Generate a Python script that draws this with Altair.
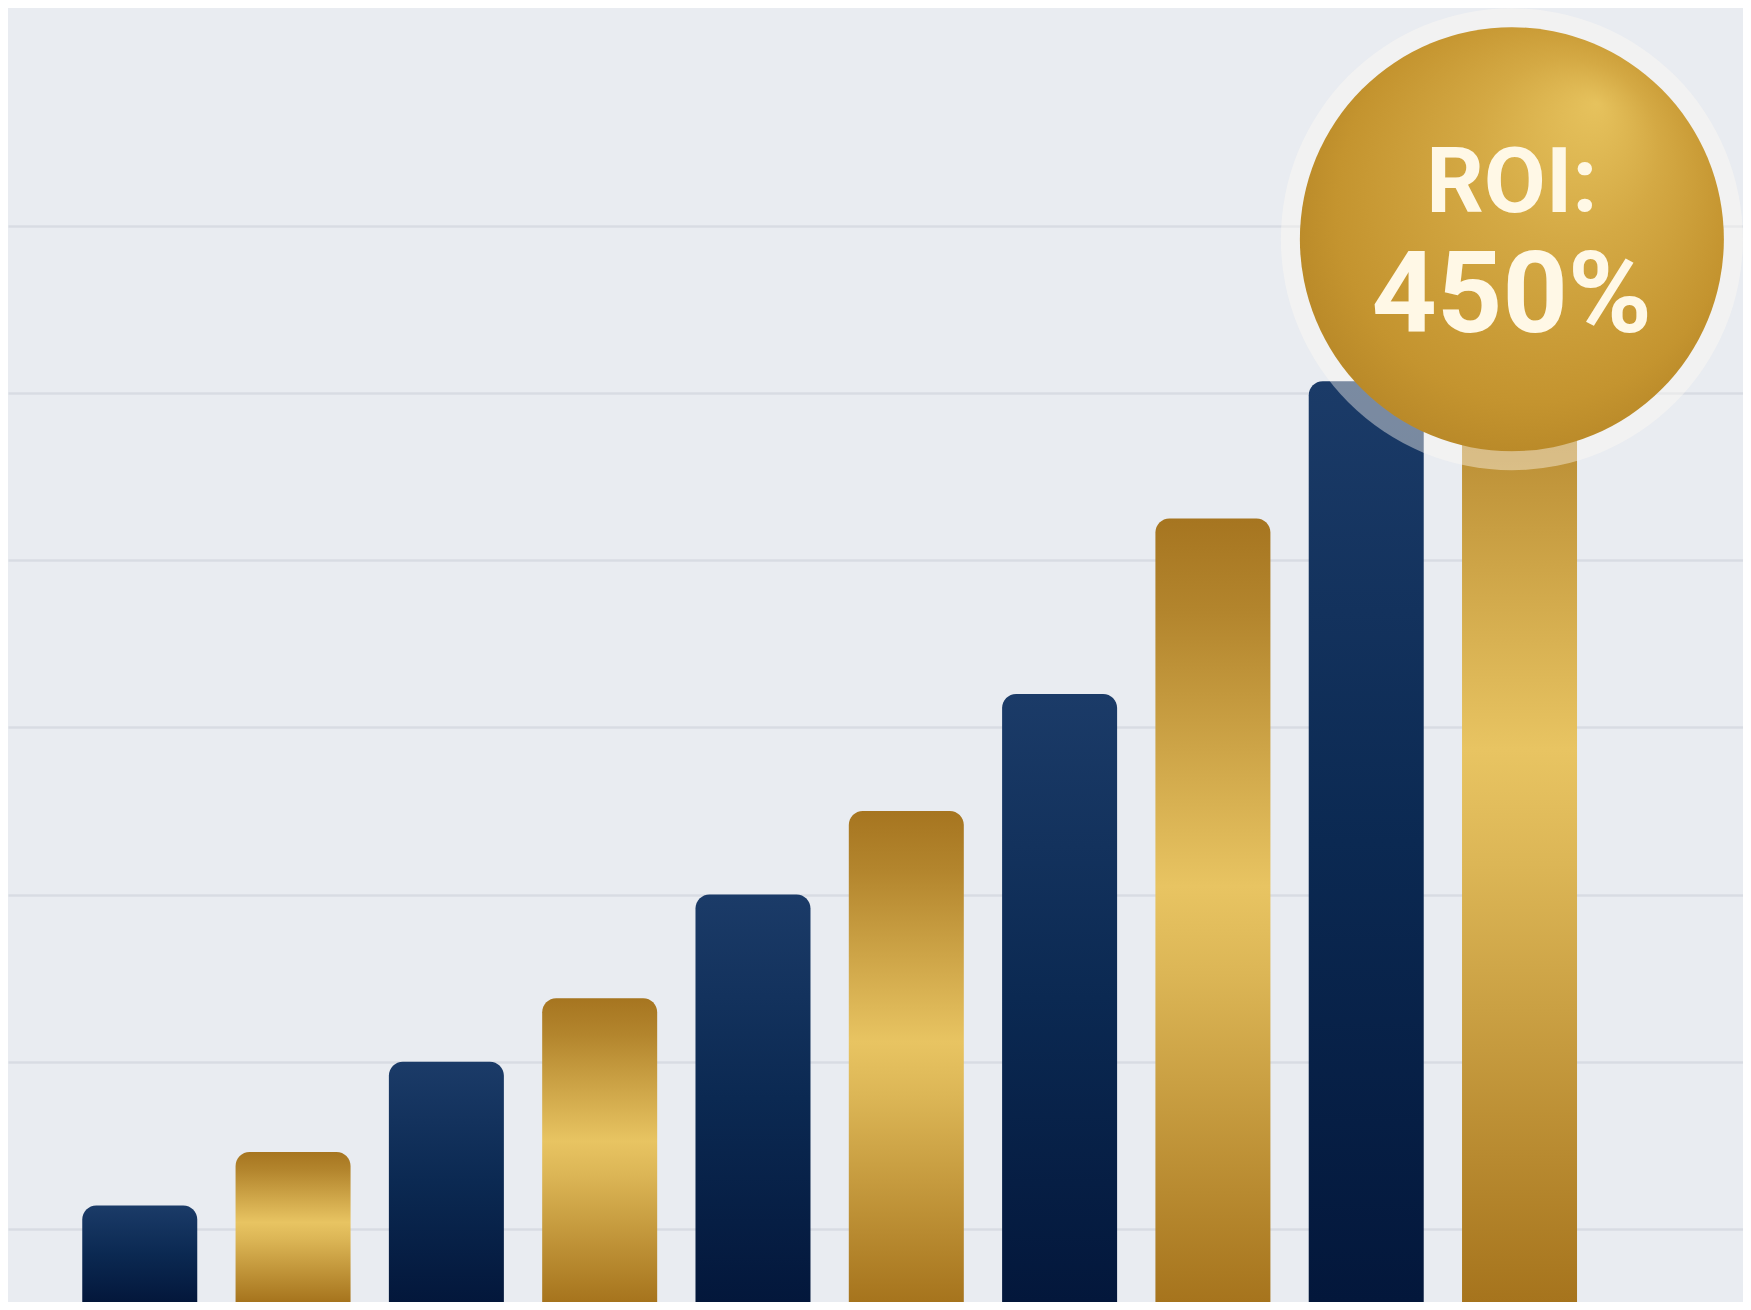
import altair as alt
import pandas as pd

# ---------------- data ----------------
navy_periods = [1, 3, 5, 7, 9]
navy_values = [114, 200, 300, 420, 607]
gold_periods = [2, 4, 6, 8, 10]
gold_values = [146, 238, 350, 525, 680]
grid_values = [100, 200, 300, 400, 500, 600, 700]

badge_x = [9.95]
badge_value = [692]
badge_line1 = ["ROI:"]
badge_line2 = ["450%"]

X_MIN, X_MAX = 0.1732, 11.425
Y_MIN, Y_MAX = 56.3, 830.3
W, H = 1735, 1294

navy = pd.DataFrame({"period": navy_periods, "value": navy_values})
gold = pd.DataFrame({"period": gold_periods, "value": gold_values})
badge = pd.DataFrame({"period": badge_x, "value": badge_value,
                      "l1": badge_line1, "l2": badge_line2})

# ---------------- styles ----------------
navy_grad = alt.LinearGradient(gradient="linear", x1=0, y1=0, x2=0, y2=1, stops=[
    alt.GradientStop(offset=0, color="#1b3b68"),
    alt.GradientStop(offset=0.5, color="#0b2952"),
    alt.GradientStop(offset=1, color="#03173b"),
])
gold_grad = alt.LinearGradient(gradient="linear", x1=0, y1=0, x2=0, y2=1, stops=[
    alt.GradientStop(offset=0, color="#a67520"),
    alt.GradientStop(offset=0.12, color="#b3852d"),
    alt.GradientStop(offset=0.47, color="#e8c462"),
    alt.GradientStop(offset=0.58, color="#dcb656"),
    alt.GradientStop(offset=1, color="#a6741d"),
])
coin_grad = alt.RadialGradient(gradient="radial", x1=0.7, y1=0.18, r1=0, x2=0.5, y2=0.5, r2=0.62, stops=[
    alt.GradientStop(offset=0, color="#e6c25d"),
    alt.GradientStop(offset=0.35, color="#d4a944"),
    alt.GradientStop(offset=0.75, color="#c4942f"),
    alt.GradientStop(offset=1, color="#b08023"),
])

RING_R, COIN_R = 231, 212
BAR_W = 115

xscale = alt.Scale(domain=[X_MIN, X_MAX], zero=False, nice=False)
yscale = alt.Scale(domain=[Y_MIN, Y_MAX], zero=False, nice=False)
grid_axis = alt.Axis(values=grid_values, grid=True, labels=False, ticks=False,
                     domain=False, title=None, gridColor="#d8dce3", gridWidth=2.5)

X = alt.X("period:Q", scale=xscale, axis=None)
Y = alt.Y("value:Q", scale=yscale, axis=grid_axis)

# ---------------- layers ----------------
navy_bars = alt.Chart(navy).mark_bar(
    color=navy_grad, width=BAR_W, cornerRadiusTopLeft=14, cornerRadiusTopRight=14,
).encode(x=X, y=Y, y2=alt.datum(Y_MIN))

gold_bars = alt.Chart(gold).mark_bar(
    color=gold_grad, width=BAR_W, cornerRadiusTopLeft=14, cornerRadiusTopRight=14,
).encode(x=X, y=Y, y2=alt.datum(Y_MIN))

ring = alt.Chart(badge).mark_point(
    shape="circle", filled=True, size=(2 * RING_R) ** 2, opacity=0.42,
    color="#fffbf2").encode(x=X, y=Y)

coin = alt.Chart(badge).mark_point(
    shape="circle", filled=True, size=(2 * COIN_R) ** 2, opacity=1,
    color=coin_grad).encode(x=X, y=Y)

text1 = alt.Chart(badge).mark_text(
    font="Roboto", fontWeight="bold", fontSize=90, color="#fff8e6",
    align="center", baseline="alphabetic", dy=-27).encode(
    x=X, y=Y, text="l1:N")
text2 = alt.Chart(badge).mark_text(
    font="Roboto", fontWeight="bold", fontSize=114, color="#fff8e6",
    align="center", baseline="alphabetic", dy=93).encode(
    x=X, y=Y, text="l2:N")

chart = alt.layer(
    navy_bars, gold_bars, ring, coin, text1, text2
).properties(
    width=W, height=H, padding=0, background="#e9ecf1",
).configure_view(stroke="transparent")

chart.save("out.html", embed_options={"renderer": "svg", "actions": False})
